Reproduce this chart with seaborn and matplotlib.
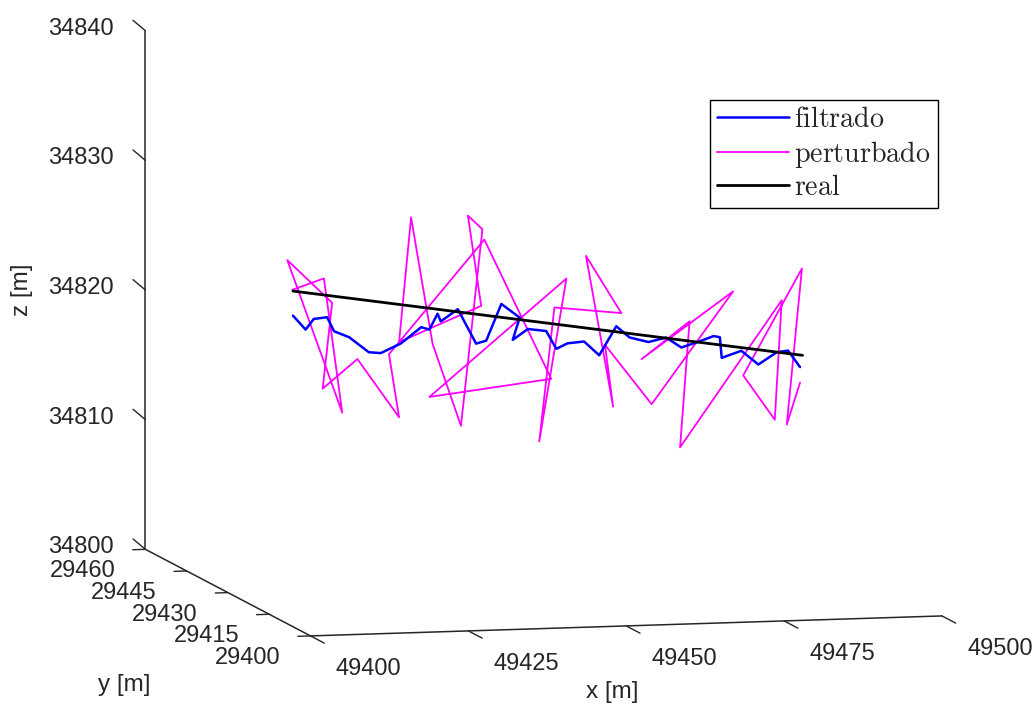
import numpy as np
import matplotlib
matplotlib.use("Agg")
import matplotlib.pyplot as plt
from matplotlib.transforms import offset_copy
import seaborn as sns

# ---------------- data ----------------
real_x = [49410.3, 49491.0]
real_y = [29430.0, 29430.0]
real_z = [34823.1, 34816.9]

filt_x = [49410.3, 49412.3, 49413.6, 49415.7, 49416.8, 49419.2, 49422.3, 49424.2,
          49427.4, 49430.6, 49431.9, 49433.2, 49433.7, 49436.4, 49439.3, 49440.9,
          49443.3, 49446.2, 49445.1, 49447.5, 49450.4, 49452.0, 49453.8, 49456.4,
          49458.8, 49461.5, 49463.6, 49466.6, 49469.4, 49471.8, 49474.5, 49476.9,
          49477.9, 49478.2, 49481.3, 49484.0, 49486.9, 49488.7, 49490.6]
filt_y = [29430.0, 29430.0, 29430.0, 29430.0, 29430.0, 29430.0, 29430.0, 29430.0,
          29430.0, 29430.0, 29430.0, 29430.0, 29430.0, 29430.0, 29430.0, 29430.0,
          29430.0, 29430.0, 29430.0, 29430.0, 29430.0, 29430.0, 29430.0, 29430.0,
          29430.0, 29430.0, 29430.0, 29430.0, 29430.0, 29430.0, 29430.0, 29430.0,
          29430.0, 29430.0, 29430.0, 29430.0, 29430.0, 29430.0, 29430.0]
filt_z = [34821.2, 34820.1, 34820.9, 34821.0, 34819.9, 34819.4, 34818.2, 34818.1,
          34818.8, 34820.0, 34819.8, 34821.0, 34820.4, 34821.3, 34818.6, 34818.8,
          34821.6, 34820.5, 34818.8, 34819.6, 34819.4, 34818.0, 34818.4, 34818.5,
          34817.4, 34819.6, 34818.7, 34818.3, 34818.6, 34817.8, 34818.2, 34818.6,
          34818.5, 34816.9, 34817.4, 34816.3, 34817.2, 34817.3, 34816.0]

pert_x = [49410.2, 49415.2, 49418.1, 49409.4, 49416.5, 49415.0, 49420.5, 49427.1,
          49425.5, 49427.1, 49429.0, 49432.4, 49436.9, 49440.3, 49438.0, 49440.1,
          49427.1, 49440.6, 49451.2, 49431.9, 49453.6, 49449.3, 49451.7, 49462.3,
          49456.7, 49461.0, 49459.7, 49467.1, 49480.0, 49465.5, 49473.1, 49471.6,
          49487.7, 49486.6, 49481.6, 49490.9, 49488.5, 49490.6]
pert_y = [29430.0, 29430.0, 29430.0, 29430.0, 29430.0, 29430.0, 29430.0, 29430.0,
          29430.0, 29430.0, 29430.0, 29430.0, 29430.0, 29430.0, 29430.0, 29430.0,
          29430.0, 29430.0, 29430.0, 29430.0, 29430.0, 29430.0, 29430.0, 29430.0,
          29430.0, 29430.0, 29430.0, 29430.0, 29430.0, 29430.0, 29430.0, 29430.0,
          29430.0, 29430.0, 29430.0, 29430.0, 29430.0, 29430.0]
pert_z = [34823.2, 34824.0, 34813.6, 34825.5, 34822.1, 34815.5, 34817.7, 34813.1,
          34818.0, 34818.9, 34828.5, 34818.7, 34812.3, 34827.4, 34828.5, 34821.5,
          34818.9, 34826.6, 34815.7, 34814.6, 34823.4, 34810.9, 34821.2, 34820.6,
          34825.1, 34813.4, 34818.2, 34813.5, 34822.0, 34817.0, 34819.8, 34810.1,
          34821.2, 34812.0, 34815.5, 34823.6, 34811.6, 34814.8]

x_ticks = [49400, 49425, 49450, 49475, 49500]
y_ticks = [29400, 29415, 29430, 29445, 29460]
z_ticks = [34800, 34810, 34820, 34830, 34840]
labels = ["filtrado", "perturbado", "real"]

# ---------------- style ----------------
sns.set_style("white")
plt.rcParams['font.family'] = ['Liberation Sans', 'DejaVu Sans']
plt.rcParams['mathtext.fontset'] = 'cm'
AX_COL = '#262626'
TICK_FS = 17

fig = plt.figure(figsize=(10.34, 7.16), dpi=100)
ax = fig.add_axes([17 / 1034, 25 / 716, 1.0, 1.0], projection='3d', proj_type='ortho')
ax.computed_zorder = False
ax.view_init(elev=7.4, azim=-103.8)
ax.set_box_aspect((649, 691, 522), zoom=1.47)

ax.plot(pert_x, pert_y, pert_z, color=(1, 0, 1), lw=1.3, zorder=2, label=labels[1])
ax.plot(filt_x, filt_y, filt_z, color=(0, 0, 1), lw=1.8, zorder=3, label=labels[0])
ax.plot(real_x, real_y, real_z, color='black', lw=2.0, zorder=4, label=labels[2])

x0, x1 = float(x_ticks[0]), float(x_ticks[-1])
y0, y1 = float(y_ticks[0]), float(y_ticks[-1])
z0, z1 = float(z_ticks[0]), float(z_ticks[-1])
ax.set_xlim(x0, x1)
ax.set_ylim(y0, y1)
ax.set_zlim(z0, z1)
ax.set_xticks([])
ax.set_yticks([])
ax.set_zticks([])

ax.grid(False)
for axis in (ax.xaxis, ax.yaxis, ax.zaxis):
    axis.set_pane_color((1, 1, 1, 0))
    axis.pane.set_edgecolor((1, 1, 1, 0))
    axis.line.set_color(AX_COL)
    axis.line.set_linewidth(1.1)

# MATLAB-like ticks and tick labels
tk = dict(color=AX_COL, lw=1.0, zorder=5, clip_on=False)
for xt in x_ticks:
    ax.plot([xt, xt], [y0, y0 - 5], [z0, z0], **tk)
    ax.text(xt, y0, z0, str(xt), fontsize=TICK_FS, color=AX_COL, ha='center', va='center',
            transform=offset_copy(ax.transData, fig=fig, x=58, y=-33, units='dots'))
for yt in y_ticks:
    ax.plot([x0, x0 - 2], [yt, yt], [z0, z0], **tk)
    ax.text(x0, yt, z0, str(yt), fontsize=TICK_FS, color=AX_COL, ha='center', va='center',
            transform=offset_copy(ax.transData, fig=fig, x=-63, y=-22, units='dots'))
for zt in z_ticks:
    ax.plot([x0, x0], [y1, y1 + 4.5], [zt, zt + 0.3], **tk)
    ax.text(x0, y1, zt, str(zt), fontsize=TICK_FS, color=AX_COL, ha='right', va='center',
            transform=offset_copy(ax.transData, fig=fig, x=-32, y=2, units='dots'))

fig.text(612 / 1034, 1 - 692 / 716, 'x [m]', fontsize=17.5, color=AX_COL, ha='center', va='center')
fig.text(124 / 1034, 1 - 685 / 716, 'y [m]', fontsize=17.5, color=AX_COL, ha='center', va='center')
fig.text(22 / 1034, 1 - 290 / 716, 'z [m]', fontsize=17.5, color=AX_COL, ha='center', va='center',
         rotation=90)

h, l = ax.get_legend_handles_labels()
order = [1, 0, 2]
leg = ax.legend([h[i] for i in order],
                [r'$\mathrm{' + l[i] + '}$' for i in order],
                loc='upper left', bbox_to_anchor=(710 / 1034, 1 - 100 / 716),
                bbox_transform=fig.transFigure, frameon=True, fancybox=False,
                edgecolor='black', framealpha=1, fontsize=20.2, handlelength=2.55,
                handletextpad=0.2, borderpad=0.25, labelspacing=0.2,
                borderaxespad=0)
leg.get_frame().set_linewidth(1.0)

fig.savefig('out.png', dpi=100)
